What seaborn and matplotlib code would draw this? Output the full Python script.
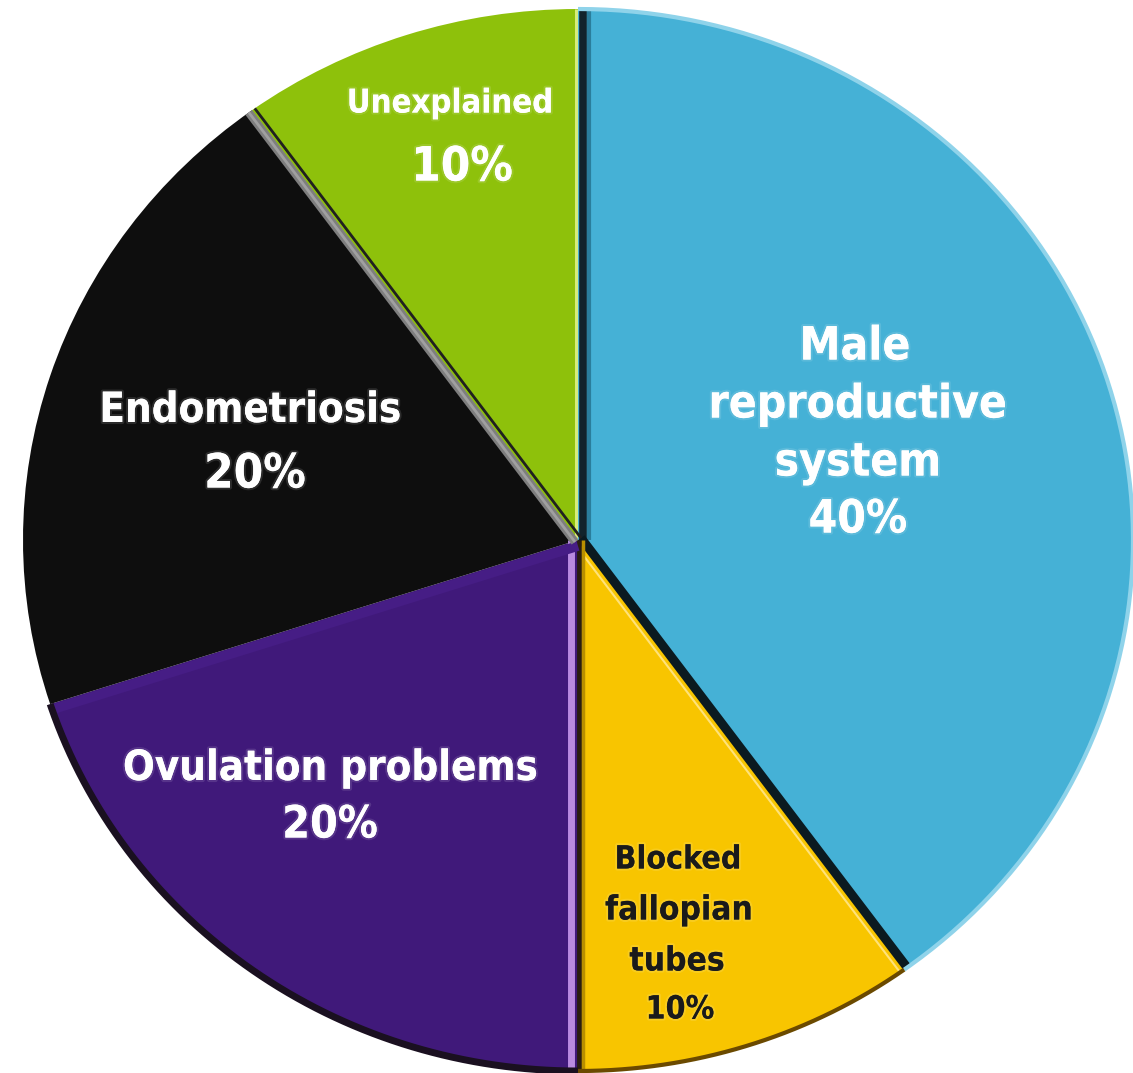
import numpy as np
import matplotlib
matplotlib.use("Agg")
import matplotlib.pyplot as plt
import matplotlib.patheffects as pe
from matplotlib import transforms
import seaborn as sns

# Causes of infertility (share of cases), clockwise from 12 o'clock
categories = ["Male\nreproductive\nsystem", "Blocked\nfallopian\ntubes",
              "Ovulation problems", "Endometriosis", "Unexplained"]
shares = [40, 10, 20, 20, 10]
colors = ["#45B1D6", "#F8C500", "#40197A", "#0E0E0E", "#8EC10B"]
text_colors = ["white", "#1A1A1A", "white", "white", "white"]

sns.set_style("white")
plt.rcParams["font.family"] = ["DejaVu Sans"]

fig = plt.figure(figsize=(11.33, 10.73), dpi=100)
ax = fig.add_axes([0, 0, 1, 1])

# pie drawn as an ellipse: the axes are not forced to equal aspect
cx_px, cy_px, rx_px, ry_px = 578, 540, 555, 531
W, H = 1133, 1073

wedges, _ = ax.pie(shares, colors=colors, startangle=90, counterclock=False,
                   radius=1.0, center=(0, 0), frame=True,
                   wedgeprops=dict(linewidth=0, antialiased=True))
ax.set_aspect("auto")
ax.set_xlim(-cx_px / rx_px, (W - cx_px) / rx_px)
ax.set_ylim(-(H - cy_px) / ry_px, cy_px / ry_px)
ax.axis("off")

# slice boundaries derived from the shares
bounds = 90 - 360 * np.concatenate([[0], np.cumsum(shares)]) / sum(shares)


def spoke(angle, color, lw, dx=0, dy=0, z=3):
    tr = transforms.offset_copy(ax.transData, fig=fig, x=dx, y=dy, units="dots")
    t = np.deg2rad(angle)
    ax.plot([0, np.cos(t)], [0, np.sin(t)], color=color, lw=lw,
            solid_capstyle="butt", transform=tr, zorder=z)


def rim(a0, a1, color, lw, z=3):
    t = np.deg2rad(np.linspace(a0, a1, 200))
    ax.plot(np.cos(t), np.sin(t), color=color, lw=lw, zorder=z,
            solid_capstyle="butt")


# divider between Unexplained and Male
spoke(bounds[0], "#D8EC7A", 2.2, dx=-2)
spoke(bounds[0], "#12232B", 5.5, dx=5)
spoke(bounds[0], "#2A7E9C", 3.0, dx=11)
# divider between Male and Blocked
spoke(bounds[1], "#0B1A20", 6.5, dx=3, dy=2)
spoke(bounds[1], "#FFE27A", 1.5, dx=-4, dy=-3)
# divider between Blocked and Ovulation
spoke(bounds[2], "#B98BE0", 5.0, dx=-7)
spoke(bounds[2], "#2A1E10", 3.5, dx=1)
spoke(bounds[2], "#B88F00", 2.5, dx=5)
# soft highlight between Ovulation and Endometriosis
spoke(bounds[3], "#461D85", 7.0, dy=-6)
# divider between Endometriosis and Unexplained
spoke(bounds[4], "#7E7E7E", 6.0, dx=-3, dy=-2)
spoke(bounds[4], "#A0A0A0", 2.0, dx=-3, dy=-2)
spoke(bounds[4], "#202020", 2.0, dx=3, dy=2)

# darker rim along the lower slices, softer rim on the blue slice
rim(bounds[2], bounds[3], "#1A1020", 5.0)
rim(bounds[1], bounds[2], "#6B4A00", 3.0)
rim(bounds[0], bounds[1], "#8FD3EA", 3.0)

glow = [pe.withStroke(linewidth=3, foreground=(1, 1, 1, 0.12))]

# label layout in pixel space, converted to data coordinates
labels = [
    dict(lines=["Male", "reproductive", "system", "40%"],
         px=[(855, 347), (858, 405), (858, 463), (858, 520)], size=[33, 33, 33, 33]),
    dict(lines=["Blocked", "fallopian", "tubes", "10%"],
         px=[(678, 860), (679, 910), (677, 961), (680, 1010)], size=[23, 24, 24, 23]),
    dict(lines=["Ovulation problems", "20%"],
         px=[(330, 768), (330, 825)], size=[30, 32]),
    dict(lines=["Endometriosis", "20%"],
         px=[(250, 410), (255, 475)], size=[30, 34]),
    dict(lines=["Unexplained", "10%"],
         px=[(450, 103), (462, 168)], size=[23.5, 34]),
]


def to_data(px, py):
    return (px - cx_px) / rx_px, (cy_px - py) / ry_px


for i, lab in enumerate(labels):
    for txt, (px, py), s in zip(lab["lines"], lab["px"], lab["size"]):
        x, y = to_data(px, py)
        ax.text(x, y, txt, ha="center", va="center", fontsize=s,
                fontweight="bold", fontstretch="condensed",
                color=text_colors[i], zorder=5, path_effects=glow)

fig.savefig("out.png", dpi=100, facecolor="white")
